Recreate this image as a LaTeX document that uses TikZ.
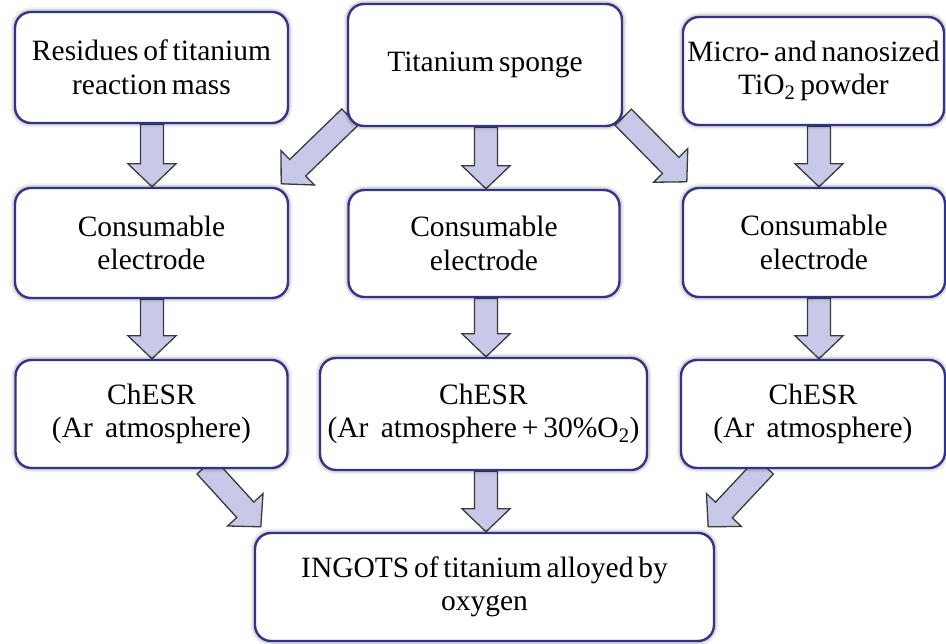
\documentclass[tikz,border=0pt]{standalone}
\usepackage{fontspec}
\setmainfont[WordSpace=0.65]{Liberation Serif}
\usetikzlibrary{calc}
\pgfdeclarelayer{bg}
\pgfsetlayers{bg,main}
\definecolor{boxborder}{HTML}{33338A}
\definecolor{arrowfill}{HTML}{C8C9E8}
\definecolor{arrowline}{HTML}{3A3A3A}
\tikzset{
  box/.style={draw=boxborder, line width=2.4pt, fill=white, rounded corners=16pt,
    align=center, inner sep=0pt, font=\fontsize{29.5}{33.5}\selectfont,
    preaction={draw=black, draw opacity=0.06, line width=9pt},
    preaction={draw=black, draw opacity=0.10, line width=5.5pt}},
  barrow/.style={fill=arrowfill, draw=arrowline, line width=1.3pt, line join=miter}
}
\newcommand\bw{11.5pt}
\newcommand\bh{24pt}
\newcommand\argap{\hspace{0.42em}}
\newcommand\blockarrow[2]{%
  \coordinate (ba-h) at ($(#2)!23pt!(#1)$);
  \draw[barrow] ($(#1)!\bw!90:(#2)$) -- ($(ba-h)!\bw!90:(#2)$) -- ($(ba-h)!\bh!90:(#2)$)
    -- (#2) -- ($(ba-h)!\bh!-90:(#2)$) -- ($(ba-h)!\bw!-90:(#2)$) -- ($(#1)!\bw!-90:(#2)$) -- cycle;}
\begin{document}
\begin{tikzpicture}[x=1pt,y=-1pt]
\useasboundingbox (0,0) rectangle (946,644);
% row 1
\node[box, minimum width=273pt, minimum height=111pt] (b1) at (151.5,67.5) {Residues of titanium\\reaction mass};
\node[box, minimum width=274pt, minimum height=122pt] (b2) at (485,65) {Titanium sponge};
\node[box, minimum width=261pt, minimum height=108pt] (b3) at (813.5,71) {Micro- and nanosized\\TiO\textsubscript{2} powder};
% row 2
\node[box, minimum width=273pt, minimum height=110pt] (b4) at (151.5,243) {Consumable\\electrode};
\node[box, minimum width=271pt, minimum height=107pt] (b5) at (484,243.5) {Consumable\\electrode};
\node[box, minimum width=262pt, minimum height=109pt] (b6) at (814,242.5) {Consumable\\electrode};
% row 3
\node[box, minimum width=272pt, minimum height=108pt] (b7) at (151.5,414) {ChESR\\(Ar\argap atmosphere)};
\node[box, minimum width=327pt, minimum height=112pt] (b8) at (483.5,414) {ChESR\\(Ar\argap atmosphere\,+\,30\%O\textsubscript{2})};
\node[box, minimum width=264pt, minimum height=108pt] (b9) at (813,414) {ChESR\\(Ar\argap atmosphere)};
% bottom
\node[box, minimum width=459pt, minimum height=108pt] (b10) at (484.5,587) {INGOTS of titanium alloyed by\\oxygen};
% connector end points
\coordinate (v1a) at ($(b1.south)+(0.5,0)$);  \coordinate (v1b) at ($(b4.north)+(0.5,0)$);
\coordinate (v2a) at ($(b2.south)+(1,0)$);    \coordinate (v2b) at (b5.north -| v2a);
\coordinate (v3a) at ($(b3.south)+(5.5,0)$);  \coordinate (v3b) at (b6.north -| v3a);
\coordinate (v4a) at ($(b4.south)+(0.5,0)$);  \coordinate (v4b) at (b7.north -| v4a);
\coordinate (v5a) at ($(b5.south)+(2,0)$);    \coordinate (v5b) at (b8.north -| v5a);
\coordinate (v6a) at ($(b6.south)+(5,0)$);    \coordinate (v6b) at (b9.north -| v6a);
\coordinate (v7a) at ($(b8.south)+(2.5,0)$);  \coordinate (v7b) at (b10.north -| v7a);
\coordinate (d1a) at ($(b2.south west)+(3,-10)$);  \coordinate (d1b) at ($(b4.north east)+(-8,-3)$);
\coordinate (d2a) at ($(b2.south east)+(0,-10)$);  \coordinate (d2b) at ($(b6.north west)+(5,-5)$);
\coordinate (d3a) at ($(b7.south)+(54,-3)$);       \coordinate (d3b) at ($(b10.north west)+(7,-5)$);
\coordinate (d4a) at ($(b9.south)+(-48,-3)$);      \coordinate (d4b) at ($(b10.north east)+(-7,-5)$);
\begin{pgfonlayer}{bg}
\blockarrow{v1a}{v1b}
\blockarrow{v2a}{v2b}
\blockarrow{v3a}{v3b}
\blockarrow{v4a}{v4b}
\blockarrow{v5a}{v5b}
\blockarrow{v6a}{v6b}
\blockarrow{v7a}{v7b}
\blockarrow{d1a}{d1b}
\blockarrow{d2a}{d2b}
\blockarrow{d3a}{d3b}
\blockarrow{d4a}{d4b}
\end{pgfonlayer}
\end{tikzpicture}
\end{document}
